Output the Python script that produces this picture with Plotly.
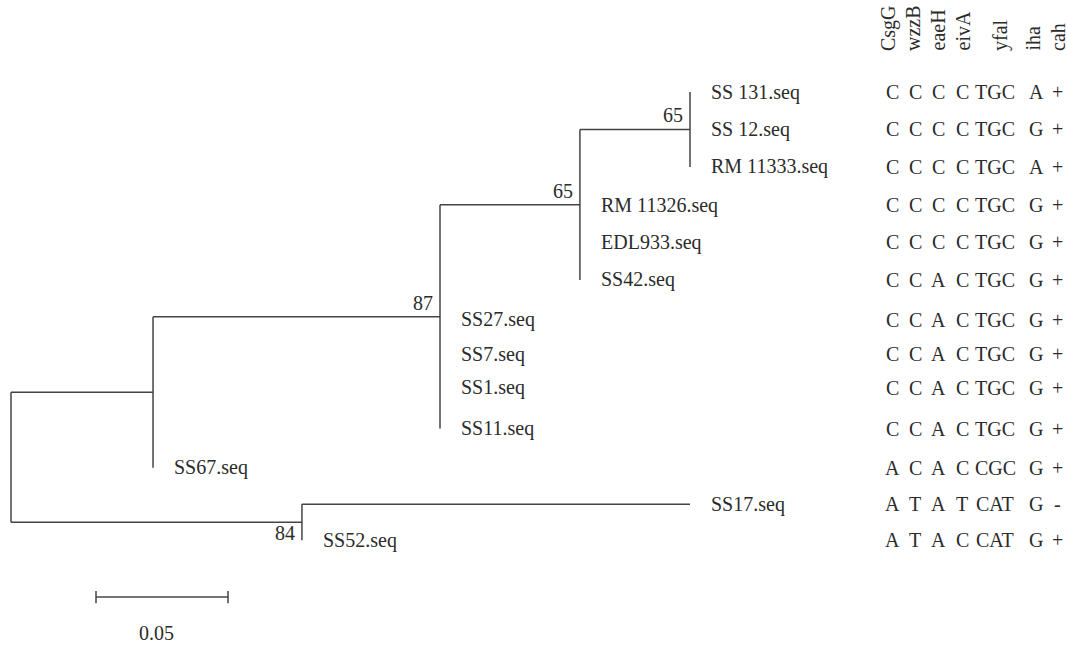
import plotly.graph_objects as go

# ---- data -------------------------------------------------------------
taxa = ["SS 131.seq", "SS 12.seq", "RM 11333.seq", "RM 11326.seq", "EDL933.seq",
        "SS42.seq", "SS27.seq", "SS7.seq", "SS1.seq", "SS11.seq", "SS67.seq",
        "SS17.seq", "SS52.seq"]
tip_parent = ["D", "D", "D", "C", "C", "C", "B", "B", "B", "B", "A", "E", "E"]
tip_length = [0, 0, 0, 0, 0, 0, 0, 0, 0, 0, 0, 0.147, 0]

clades = ["A", "B", "C", "D", "E"]
clade_parent = ["root", "A", "B", "C", "root"]
clade_length = [0.0538, 0.1087, 0.0530, 0.0417, 0.1102]

support_clade = ["B", "C", "D", "E"]
support_value = [87, 65, 65, 84]

genes = ["CsgG", "wzzB", "eaeH", "eivA", "yfal", "iha", "cah"]
profiles = [
    ["C", "C", "C", "C", "TGC", "A", "+"],
    ["C", "C", "C", "C", "TGC", "G", "+"],
    ["C", "C", "C", "C", "TGC", "A", "+"],
    ["C", "C", "C", "C", "TGC", "G", "+"],
    ["C", "C", "C", "C", "TGC", "G", "+"],
    ["C", "C", "A", "C", "TGC", "G", "+"],
    ["C", "C", "A", "C", "TGC", "G", "+"],
    ["C", "C", "A", "C", "TGC", "G", "+"],
    ["C", "C", "A", "C", "TGC", "G", "+"],
    ["C", "C", "A", "C", "TGC", "G", "+"],
    ["A", "C", "A", "C", "CGC", "G", "+"],
    ["A", "T", "A", "T", "CAT", "G", "-"],
    ["A", "T", "A", "C", "CAT", "G", "+"],
]

scale_length = 0.05
scale_label = "0.05"

# ---- layout constants -------------------------------------------------
W, H = 1068, 646
TOP_PX, ROW_PX = 92, 36          # first tip row and row pitch
ROOT_PX, UNIT_PX = 11, 2640      # root position and pixels per unit length
TIP_ROW = [0, 1.04, 2.08, 3.14, 4.17, 5.22, 6.33, 7.28, 8.22, 9.35,
           10.44, 11.45, 12.45]
COL_PX = [892, 915, 938, 962, 995, 1036, 1057]
HEAD_PX = [888, 913, 937, 962, 1000, 1032, 1058]
HEAD_BOTTOM_PX = 53
SCALE_X0 = 0.0322
SCALE_ROW, SCALE_LABEL_ROW = 14.03, 15.03

FONT = "Liberation Serif"
TEXT = "#2b2b2b"
LINE = "#444444"
FS = 20

# ---- tree geometry ----------------------------------------------------
x_of = {"root": 0.0}
for c, p, L in zip(clades, clade_parent, clade_length):
    x_of[c] = x_of[p] + L

y_of = {}
tip_x = []
for name, p, L, r in zip(taxa, tip_parent, tip_length, TIP_ROW):
    y_of[name] = r
    tip_x.append(x_of[p] + L)

span = {}
for c in list(reversed(clades)) + ["root"]:
    kids = [y_of[t] for t, p in zip(taxa, tip_parent) if p == c]
    kids += [y_of[k] for k, p in zip(clades, clade_parent) if p == c]
    span[c] = (min(kids), max(kids))
    y_of[c] = (min(kids) + max(kids)) / 2

xs, ys = [], []
# verticals at every internal node
for c in ["root"] + clades:
    xs += [x_of[c], x_of[c], None]
    ys += [span[c][0], span[c][1], None]
# horizontals for clades
for c, p in zip(clades, clade_parent):
    xs += [x_of[p], x_of[c], None]
    ys += [y_of[c], y_of[c], None]
# horizontals for tips with non-zero length
for name, p, L, tx in zip(taxa, tip_parent, tip_length, tip_x):
    if L > 0:
        xs += [x_of[p], tx, None]
        ys += [y_of[name], y_of[name], None]

# scale bar
tick = 0.17
xs += [SCALE_X0, SCALE_X0 + scale_length, None,
       SCALE_X0, SCALE_X0, None,
       SCALE_X0 + scale_length, SCALE_X0 + scale_length, None]
ys += [SCALE_ROW, SCALE_ROW, None,
       SCALE_ROW - tick, SCALE_ROW + tick, None,
       SCALE_ROW - tick, SCALE_ROW + tick, None]

fig = go.Figure()
fig.add_trace(go.Scatter(x=xs, y=ys, mode="lines",
                         line=dict(color=LINE, width=1.5),
                         hoverinfo="skip", showlegend=False))

font = dict(family=FONT, size=FS, color=TEXT)
ann = []

# tip labels
for name, tx in zip(taxa, tip_x):
    ann.append(dict(x=tx, y=y_of[name], xref="x", yref="y", text=name,
                    showarrow=False, xanchor="left", yanchor="middle",
                    xshift=19, font=font))

# bootstrap support
for c, v in zip(support_clade, support_value):
    below = c == "E"
    ann.append(dict(x=x_of[c], y=y_of[c], xref="x", yref="y", text=str(v),
                    showarrow=False, xanchor="right", yanchor="middle",
                    xshift=-5, yshift=-11 if below else 14, font=font))

# scale label
ann.append(dict(x=SCALE_X0 + scale_length / 2, y=SCALE_LABEL_ROW, xref="x",
                yref="y", text=scale_label, showarrow=False,
                xanchor="center", yanchor="middle", xshift=-6, font=font))

# gene headers
for g, px in zip(genes, HEAD_PX):
    ann.append(dict(x=px / W, y=(HEAD_BOTTOM_PX - TOP_PX) / ROW_PX,
                    xref="paper", yref="y", text=g, showarrow=False,
                    textangle=-90, xanchor="center", yanchor="bottom",
                    font=font))

# allele profiles
for name, prof in zip(taxa, profiles):
    for val, px in zip(prof, COL_PX):
        ann.append(dict(x=px / W, y=y_of[name], xref="paper", yref="y",
                        text=val, showarrow=False, xanchor="center",
                        yanchor="middle", font=font))

fig.update_layout(
    width=W, height=H,
    margin=dict(l=0, r=0, t=0, b=0),
    paper_bgcolor="white", plot_bgcolor="white",
    xaxis=dict(range=[-ROOT_PX / UNIT_PX, (W - ROOT_PX) / UNIT_PX],
               visible=False, fixedrange=True),
    yaxis=dict(range=[(H - TOP_PX) / ROW_PX, -TOP_PX / ROW_PX],
               visible=False, fixedrange=True),
    annotations=ann,
    showlegend=False,
)

fig.write_html("out.html")
